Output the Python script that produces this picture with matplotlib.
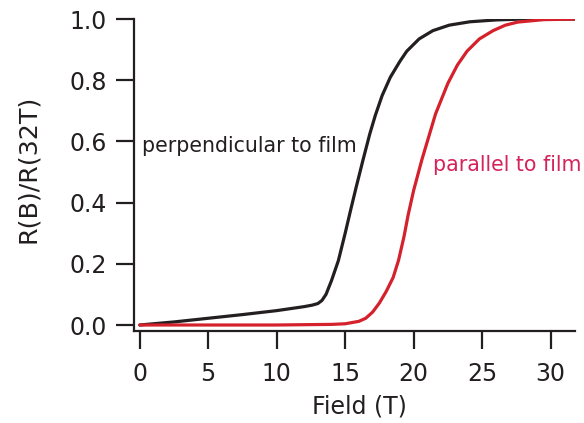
import matplotlib
matplotlib.use("Agg")
import matplotlib.pyplot as plt

# perpendicular to film (black)
field_perp = [0, 2.5, 5, 7.5, 10, 12, 12.6, 13.0, 13.3, 13.6, 14.0, 14.5, 15.0,
              15.4, 15.8, 16.3, 16.8, 17.2, 17.7, 18.3, 19.0, 19.5, 20.4, 21.4,
              22.6, 24.1, 26, 28, 32]
r_perp = [0.0, 0.01, 0.022, 0.034, 0.047, 0.060, 0.065, 0.070, 0.080, 0.10,
          0.145, 0.21, 0.30, 0.376, 0.45, 0.539, 0.625, 0.685, 0.75, 0.81,
          0.862, 0.895, 0.935, 0.962, 0.98, 0.991, 0.997, 1.0, 1.0]

# parallel to film (red)
field_par = [0, 5, 10, 14, 15, 16.0, 16.5, 17.0, 17.5, 18.0, 18.5, 18.9, 19.3,
             19.6, 20.0, 20.6, 21.0, 21.6, 22.5, 23.2, 23.9, 24.8, 25.8, 26.7,
             27.6, 29.5, 32]
r_par = [0.0, 0.0, 0.0, 0.002, 0.004, 0.012, 0.022, 0.042, 0.072, 0.11, 0.155,
         0.212, 0.29, 0.36, 0.44, 0.54, 0.60, 0.69, 0.79, 0.85, 0.895, 0.935,
         0.962, 0.98, 0.99, 0.998, 1.0]

xticks = [0, 5, 10, 15, 20, 25, 30]
yticks = [0.0, 0.2, 0.4, 0.6, 0.8, 1.0]

plt.rcParams['font.family'] = ['DejaVu Sans']
ink = '#231f20'

fig = plt.figure(figsize=(5.84, 4.23), dpi=100)
ax = fig.add_axes([0.229, 0.2175, 0.756, 0.7375])

ax.plot(field_perp, r_perp, color=ink, lw=2.3, solid_capstyle='round')
ax.plot(field_par, r_par, color='#d4212b', lw=2.3, solid_capstyle='round')

ax.text(0.15, 0.566, 'perpendicular to film', color=ink, fontsize=14.8,
        va='baseline', ha='left')
ax.text(21.4, 0.504, 'parallel to film', color='#d4245c', fontsize=14.8,
        va='baseline', ha='left')

ax.set_xlim(-0.44, 31.8)
ax.set_ylim(-0.0196, 1.0)
ax.set_xticks(xticks)
ax.set_yticks(yticks)
ax.set_yticklabels([f'{v:.1f}' for v in yticks])
ax.set_xlabel('Field (T)', fontsize=17, color=ink)
ax.set_ylabel('R(B)/R(32T)', fontsize=18.3, color=ink)
ax.xaxis.set_label_coords(0.511, -0.205)
ax.yaxis.set_label_coords(-0.213, 0.521)

for side in ['top', 'right']:
    ax.spines[side].set_visible(False)
for side in ['left', 'bottom']:
    ax.spines[side].set_linewidth(1.6)
    ax.spines[side].set_color(ink)
ax.tick_params(direction='out', length=13, width=1.6, color=ink,
               labelsize=17, labelcolor=ink)
ax.tick_params(axis='x', pad=9)
ax.tick_params(axis='y', pad=6.5)

fig.savefig('out.png', dpi=100)
